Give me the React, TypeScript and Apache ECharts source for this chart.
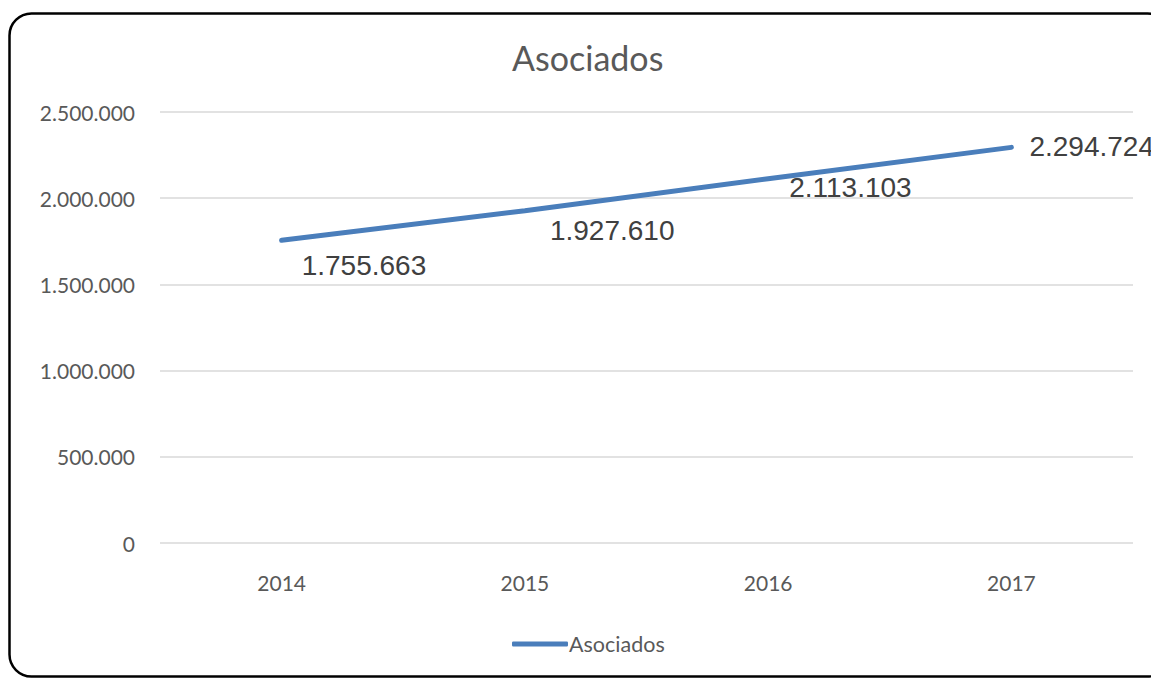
import React, { useEffect, useRef } from "react";
import * as echarts from "echarts";

const categories = ["2014", "2015", "2016", "2017"];
const asociados = [1755663, 1927610, 2113103, 2294724];
const yTicks = [0, 500000, 1000000, 1500000, 2000000, 2500000];
const seriesName = "Asociados";
const titleText = "Asociados";

const fmt = (v: number) => String(Math.round(v)).replace(/\B(?=(\d{3})+(?!\d))/g, ".");

export default function App() {
  const ref = useRef<HTMLDivElement>(null);
  useEffect(() => {
    if (!ref.current) return;
    const chart = echarts.init(ref.current, null, { renderer: "svg" });
    const labelShift = [
      [0, 25],
      [5, 20],
      [1, 9],
      [-2, -1],
    ];
    chart.setOption({
      animation: false,
      backgroundColor: "#fff",
      title: {
        text: titleText,
        left: 507,
        top: 35,
        textStyle: { fontFamily: "Lato", fontSize: 34, fontWeight: "normal", color: "#595959" },
      },
      legend: {
        bottom: 19,
        left: 507,
        data: [seriesName],
        itemWidth: 56,
        itemHeight: 5,
        itemGap: 0,
        icon: "roundRect",
        textStyle: { fontFamily: "Lato", fontSize: 21.5, color: "#595959", padding: [0, 0, 0, -4] },
      },
      grid: { left: 160, right: 18, top: 112, bottom: 136, containLabel: false },
      xAxis: {
        type: "category",
        data: categories,
        boundaryGap: true,
        axisLine: { show: false },
        axisTick: { show: false },
        axisLabel: { fontFamily: "Lato", fontSize: 21, color: "#595959", margin: 29 },
      },
      yAxis: {
        type: "value",
        min: yTicks[0],
        max: yTicks[yTicks.length - 1],
        interval: yTicks[1] - yTicks[0],
        axisLine: { show: false },
        axisTick: { show: false },
        splitLine: { lineStyle: { color: "#d9d9d9", width: 1.5 } },
        axisLabel: {
          fontFamily: "Lato",
          fontSize: 21,
          color: "#595959",
          margin: 25,
          formatter: (v: number) => fmt(v),
        },
      },
      series: [
        {
          name: seriesName,
          type: "line",
          data: asociados,
          showSymbol: true,
          symbol: "circle",
          symbolSize: 0.1,
          lineStyle: { color: "#4a7ebb", width: 5, cap: "round" },
          itemStyle: { color: "#4a7ebb" },
          label: {
            show: true,
            position: "right",
            distance: 20,
            fontFamily: "Liberation Sans",
            fontSize: 28,
            color: "#404040",
            formatter: (p: any) => fmt(p.value),
          },
          labelLayout: (params: any) => {
            const s = labelShift[params.dataIndex] || [0, 0];
            return { dx: s[0], dy: s[1], hideOverlap: false };
          },
        },
      ],
      graphic: [
        {
          type: "rect",
          shape: { x: 9.5, y: 13.5, width: 1160, height: 663, r: 22 },
          style: { fill: "none", stroke: "#000", lineWidth: 2.5 },
          silent: true,
          z: 100,
        },
      ],
    });
    return () => chart.dispose();
  }, []);
  return (
    <div
      ref={ref}
      style={{ position: "absolute", left: 0, top: 0, width: 1151, height: 679 }}
    />
  );
}
